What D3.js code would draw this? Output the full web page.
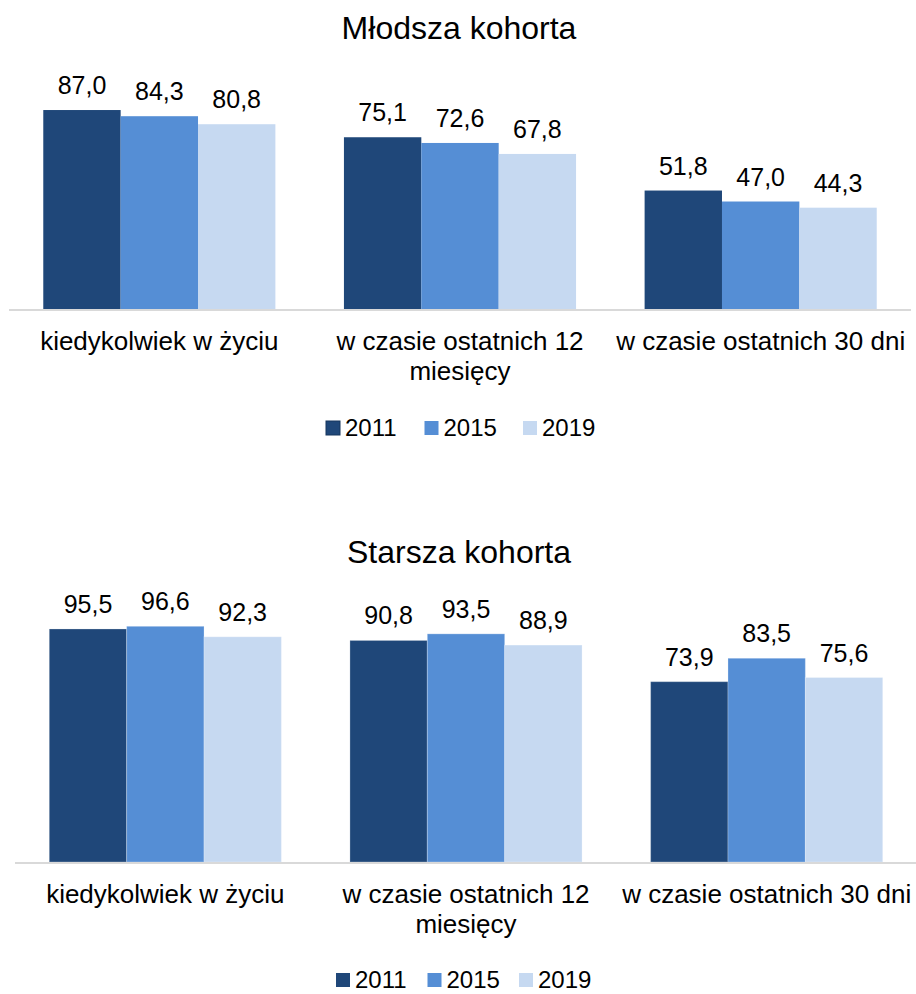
<!DOCTYPE html>
<html lang="pl">
<head>
    <meta charset="UTF-8">
    <title>Młodsza i starsza kohorta</title>
    <style>
        body {
            margin: 0;
            background: #fff;
        }
        svg text {
            font-family: "Liberation Sans", Arial, sans-serif;
            fill: #000;
        }
    </style>
    <script src="https://d3js.org/d3.v7.min.js"></script>
</head>
<body>
    <div id="chart"></div>
    <script>
        // Data
        var categories = ["kiedykolwiek w życiu", "w czasie ostatnich 12 miesięcy", "w czasie ostatnich 30 dni"];
        var years = ["2011", "2015", "2019"];
        var youngValues = {
            "2011": [87.0, 75.1, 51.8],
            "2015": [84.3, 72.6, 47.0],
            "2019": [80.8, 67.8, 44.3]
        };
        var oldValues = {
            "2011": [95.5, 90.8, 73.9],
            "2015": [96.6, 93.5, 83.5],
            "2019": [92.3, 88.9, 75.6]
        };
        var titles = ["Młodsza kohorta", "Starsza kohorta"];
        var colors = ["#1f4779", "#558ed5", "#c6d9f1"];

        var width = 916;
        var height = 994;

        var svg = d3.select("#chart")
            .append("svg")
            .attr("width", width)
            .attr("height", height);

        var color = d3.scaleOrdinal().domain(years).range(colors);

        // layout of the two panels
        var panels = [
            { title: titles[0], values: youngValues, titleY: 39, x0: 9, x1: 911, base: 309, top: 80.3,
              legendX: 326, legendStep: 98.5, legendY: 421 },
            { title: titles[1], values: oldValues, titleY: 563, x0: 15, x1: 917, base: 862, top: 618,
              legendX: 336, legendStep: 91.5, legendY: 973 }
        ];

        panels.forEach(function(p, pi) {
            var g = svg.append("g");

            var x = d3.scaleBand()
                .domain(categories)
                .range([p.x0, p.x1])
                .paddingInner(0.228)
                .paddingOuter(0.114);

            var xInner = d3.scaleBand()
                .domain(years)
                .range([0, x.bandwidth()]);

            var y = d3.scaleLinear()
                .domain([0, 100])
                .range([p.base, p.top]);

            // title
            g.append("text")
                .attr("x", width / 2 + 1)
                .attr("y", p.titleY)
                .attr("text-anchor", "middle")
                .style("font-size", "32px")
                .text(p.title);

            // rows of bars
            var rows = [];
            categories.forEach(function(c, i) {
                years.forEach(function(yr) {
                    rows.push({ cat: c, year: yr, value: p.values[yr][i] });
                });
            });

            g.selectAll("rect.bar")
                .data(rows)
                .enter()
                .append("rect")
                .attr("class", "bar")
                .attr("x", function(d) { return x(d.cat) + xInner(d.year); })
                .attr("y", function(d) { return y(d.value); })
                .attr("width", xInner.bandwidth())
                .attr("height", function(d) { return y(0) - y(d.value); })
                .style("fill", function(d) { return color(d.year); })
                .style("stroke", pi === 1 ? "rgba(255,255,255,0.25)" : "none")
                .style("stroke-width", 1);

            // value labels
            g.selectAll("text.val")
                .data(rows)
                .enter()
                .append("text")
                .attr("class", "val")
                .attr("x", function(d) { return x(d.cat) + xInner(d.year) + xInner.bandwidth() / 2; })
                .attr("y", function(d) { return y(d.value) - 16; })
                .attr("text-anchor", "middle")
                .style("font-size", "25px")
                .text(function(d) { return d3.format(".1f")(d.value).replace(".", ","); });

            // axis line
            g.append("line")
                .attr("x1", p.x0)
                .attr("x2", p.x1)
                .attr("y1", y(0) + 1)
                .attr("y2", y(0) + 1)
                .style("stroke", "#d9d9d9")
                .style("stroke-width", 2);

            // category labels (wrapped)
            var labels = g.selectAll("text.cat")
                .data(categories)
                .enter()
                .append("text")
                .attr("class", "cat")
                .attr("text-anchor", "middle")
                .style("font-size", "26px")
                .attr("y", y(0) + 41);

            labels.each(function(c) {
                var t = d3.select(this);
                var cx = x(c) + x.bandwidth() / 2;
                var words = c.split(" ");
                var line = [];
                var tspan = t.append("tspan").attr("x", cx).attr("dy", 0);
                words.forEach(function(w) {
                    line.push(w);
                    tspan.text(line.join(" "));
                    if (tspan.node().getComputedTextLength() > x.step() && line.length > 1) {
                        line.pop();
                        tspan.text(line.join(" "));
                        line = [w];
                        tspan = t.append("tspan").attr("x", cx).attr("dy", "30px").text(w);
                    }
                });
            });

            // legend
            var legend = g.selectAll("g.legend")
                .data(years)
                .enter()
                .append("g")
                .attr("class", "legend")
                .attr("transform", function(d, i) {
                    return "translate(" + (p.legendX + i * p.legendStep) + "," + p.legendY + ")";
                });

            legend.append("rect")
                .attr("width", 14)
                .attr("height", 14)
                .style("fill", function(d) { return color(d); })
                .style("stroke", function(d, i) { return (pi === 0 && i === 0) ? "#17375e" : "none"; })
                .style("stroke-width", 1);

            legend.append("text")
                .attr("x", 19)
                .attr("y", 15)
                .style("font-size", "24px")
                .text(function(d) { return d; });
        });
    </script>
</body>
</html>
